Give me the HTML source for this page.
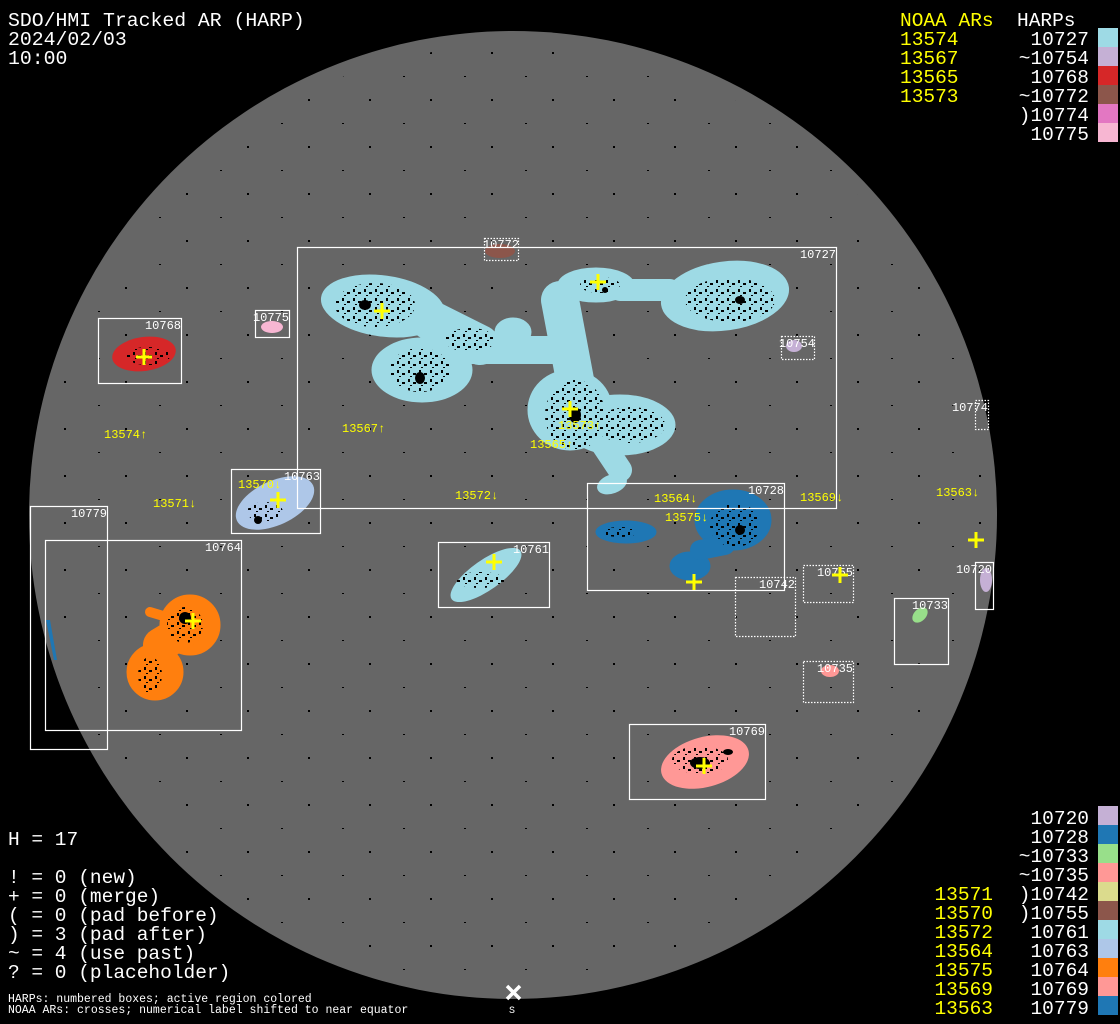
<!DOCTYPE html>
<html><head><meta charset="utf-8"><style>
html,body{margin:0;padding:0;background:#000;}
svg{display:block;}
text{font-family:"Liberation Mono","DejaVu Sans Mono",monospace;}
</style></head><body>
<svg width="1120" height="1024" viewBox="0 0 1120 1024" xmlns="http://www.w3.org/2000/svg">
<defs>
<pattern id="spk" width="11" height="9" patternUnits="userSpaceOnUse">
<rect x="1" y="1" width="2" height="3" fill="#000"/><rect x="6" y="4" width="3" height="2" fill="#000"/><rect x="3" y="7" width="2" height="1" fill="#000"/>
</pattern>
<pattern id="spk2" width="61" height="47" patternUnits="userSpaceOnUse">
<rect x="3" y="5" width="2" height="2" fill="#000"/><rect x="37" y="29" width="2" height="1" fill="#000"/>
</pattern>
</defs>
<rect width="1120" height="1024" fill="#000"/>
<circle cx="513" cy="515" r="484" fill="#666666"/>
<circle cx="513" cy="515" r="470" fill="url(#spk2)"/>

<!-- 10727 big cyan region -->
<g fill="#9edae5" stroke="#9edae5" stroke-linecap="round">
<ellipse cx="383" cy="306" rx="62" ry="30" transform="rotate(8 383 306)"/>
<ellipse cx="422" cy="370" rx="50" ry="32"/>
<line x1="430" y1="320" x2="480" y2="345" stroke-width="40"/>
<line x1="470" y1="350" x2="560" y2="350" stroke-width="28"/>
<ellipse cx="513" cy="332" rx="18" ry="14"/>
<line x1="560" y1="300" x2="575" y2="380" stroke-width="38"/>
<ellipse cx="570" cy="410" rx="42" ry="40"/>
<ellipse cx="620" cy="425" rx="55" ry="30"/>
<line x1="600" y1="440" x2="620" y2="470" stroke-width="24"/>
<ellipse cx="612" cy="484" rx="15" ry="9" transform="rotate(-20 612 484)"/>
<ellipse cx="596" cy="285" rx="38" ry="17"/>
<line x1="620" y1="290" x2="670" y2="290" stroke-width="22"/>
<ellipse cx="725" cy="296" rx="64" ry="34" transform="rotate(-8 725 296)"/>
</g>
<g fill="url(#spk)">
<ellipse cx="375" cy="305" rx="40" ry="22"/><ellipse cx="420" cy="370" rx="30" ry="22"/><ellipse cx="575" cy="415" rx="30" ry="35"/>
<ellipse cx="730" cy="300" rx="45" ry="22"/><ellipse cx="470" cy="340" rx="25" ry="12"/><ellipse cx="630" cy="425" rx="35" ry="18"/>
<ellipse cx="600" cy="285" rx="20" ry="8"/>
</g>
<g fill="#000">
<ellipse cx="365" cy="305" rx="6" ry="5"/><ellipse cx="420" cy="378" rx="5" ry="6"/><ellipse cx="575" cy="415" rx="6" ry="8"/>
<ellipse cx="740" cy="300" rx="5" ry="4"/><ellipse cx="605" cy="290" rx="3" ry="3"/>
</g>

<!-- other regions -->
<ellipse cx="500" cy="251" rx="15" ry="7" fill="#8c564b"/>
<ellipse cx="272" cy="327" rx="11" ry="6" fill="#f7b6d2"/>
<ellipse cx="144" cy="354" rx="32" ry="17" fill="#d62728" transform="rotate(-8 144 354)"/>
<ellipse cx="794" cy="346" rx="8" ry="6" fill="#c5b0d5"/>
<ellipse cx="275" cy="503" rx="42" ry="22" fill="#aec7e8" transform="rotate(-25 275 503)"/>
<g fill="#ff7f0e" stroke="#ff7f0e" stroke-linecap="round">
<circle cx="190" cy="625" r="30"/>
<ellipse cx="155" cy="672" rx="28" ry="28"/>
<line x1="160" y1="645" x2="185" y2="630" stroke-width="34"/>
<line x1="150" y1="612" x2="170" y2="618" stroke-width="10"/>
</g>
<path d="M46 620 L50 620 L57 660 L54 660 Z" fill="#1f77b4"/>
<ellipse cx="486" cy="575" rx="42" ry="15" fill="#9edae5" transform="rotate(-35 486 575)"/>
<g fill="#1f77b4" stroke="#1f77b4" stroke-linecap="round">
<ellipse cx="733" cy="520" rx="38" ry="30"/>
<ellipse cx="690" cy="566" rx="20" ry="14"/>
<line x1="700" y1="550" x2="725" y2="545" stroke-width="20"/>
<ellipse cx="626" cy="532" rx="30" ry="11"/>
</g>
<ellipse cx="705" cy="762" rx="45" ry="25" fill="#ff9896" transform="rotate(-15 705 762)"/>
<g fill="url(#spk)">
<ellipse cx="735" cy="525" rx="25" ry="22"/><ellipse cx="620" cy="532" rx="18" ry="5"/><ellipse cx="185" cy="625" rx="18" ry="18"/>
<ellipse cx="150" cy="675" rx="12" ry="18"/><ellipse cx="265" cy="512" rx="18" ry="10"/><ellipse cx="148" cy="356" rx="22" ry="9"/>
<ellipse cx="480" cy="580" rx="25" ry="8"/><ellipse cx="700" cy="760" rx="28" ry="14"/>
</g>
<g fill="#000"><ellipse cx="185" cy="618" rx="6" ry="6"/><ellipse cx="700" cy="763" rx="10" ry="6"/><ellipse cx="728" cy="752" rx="5" ry="3"/><ellipse cx="258" cy="520" rx="4" ry="4"/><ellipse cx="740" cy="530" rx="5" ry="5"/></g>
<ellipse cx="920" cy="615" rx="9" ry="6" fill="#98df8a" transform="rotate(-45 920 615)"/>
<ellipse cx="830" cy="671" rx="9" ry="6" fill="#ff9896"/>
<ellipse cx="986" cy="580" rx="6" ry="12" fill="#c5b0d5"/>

<!-- boxes -->
<g fill="none" stroke="#fff" stroke-width="1.2">
<rect x="297.5" y="247.5" width="539" height="261"/>
<rect x="98.5" y="318.5" width="83" height="65"/>
<rect x="255.5" y="310.5" width="34" height="27"/>
<rect x="231.5" y="469.5" width="89" height="64"/>
<rect x="30.5" y="506.5" width="77" height="243"/>
<rect x="45.5" y="540.5" width="196" height="190"/>
<rect x="438.5" y="542.5" width="111" height="65"/>
<rect x="587.5" y="483.5" width="197" height="107"/>
<rect x="894.5" y="598.5" width="54" height="66"/>
<rect x="975.5" y="562.5" width="18" height="47"/>
<rect x="629.5" y="724.5" width="136" height="75"/>
</g>
<g fill="none" stroke="#fff" stroke-width="1.2" stroke-dasharray="1.5 1.5">
<rect x="484.5" y="238.5" width="34" height="22"/>
<rect x="781.5" y="336.5" width="33" height="23"/>
<rect x="975.5" y="400.5" width="13" height="29"/>
<rect x="735.5" y="577.5" width="60" height="59"/>
<rect x="803.5" y="565.5" width="50" height="37"/>
<rect x="803.5" y="661.5" width="50" height="41"/>
</g>
<g fill="#fff" font-size="12" text-anchor="end">
<text x="836" y="258">10727</text>
<text x="519" y="248">10772</text>
<text x="289" y="321">10775</text>
<text x="181" y="329">10768</text>
<text x="815" y="347">10754</text>
<text x="988" y="411">10774</text>
<text x="320" y="480">10763</text>
<text x="107" y="517">10779</text>
<text x="241" y="551">10764</text>
<text x="549" y="553">10761</text>
<text x="784" y="494">10728</text>
<text x="795" y="588">10742</text>
<text x="853" y="576">10755</text>
<text x="948" y="609">10733</text>
<text x="992" y="573">10720</text>
<text x="853" y="672">10735</text>
<text x="765" y="735">10769</text>
</g>

<!-- crosses -->
<g stroke="#ffff00" stroke-width="3">
<path d="M136 357h16M144 349v16"/><path d="M374 311h16M382 303v16"/><path d="M590 282h16M598 274v16"/>
<path d="M562 409h16M570 401v16"/><path d="M270 500h16M278 492v16"/><path d="M486 562h16M494 554v16"/>
<path d="M185 621h16M193 613v16"/><path d="M686 582h16M694 574v16"/><path d="M832 575h16M840 567v16"/>
<path d="M968 540h16M976 532v16"/><path d="M696 766h16M704 758v16"/>
</g>
<g fill="#ffff00" font-size="12">
<text x="104" y="438">13574↑</text><text x="342" y="432">13567↑</text><text x="558" y="429">13573↑</text>
<text x="530" y="448">13565↑</text><text x="238" y="488">13570↓</text><text x="153" y="507">13571↓</text>
<text x="455" y="499">13572↓</text><text x="654" y="502">13564↓</text><text x="665" y="521">13575↓</text>
<text x="800" y="501">13569↓</text><text x="936" y="496">13563↓</text>
</g>

<!-- header -->
<g fill="#fff" font-size="19.8">
<text x="8" y="26">SDO/HMI Tracked AR (HARP)</text>
<text x="8" y="45">2024/02/03</text>
<text x="8" y="64">10:00</text>
</g>
<g font-size="19.5">
<text x="900" y="26" fill="#ffff00">NOAA ARs</text>
<text x="1017" y="26" fill="#fff">HARPs</text>
<g fill="#ffff00"><text x="900" y="45">13574</text><text x="900" y="64">13567</text><text x="900" y="83">13565</text><text x="900" y="102">13573</text></g>
<g fill="#fff" text-anchor="end"><text x="1089" y="45">10727</text><text x="1089" y="64">~10754</text><text x="1089" y="83">10768</text><text x="1089" y="102">~10772</text><text x="1089" y="121">)10774</text><text x="1089" y="140">10775</text></g>
</g>
<rect x="1098" y="28" width="20" height="19" fill="#9edae5"/>
<rect x="1098" y="47" width="20" height="19" fill="#c5b0d5"/>
<rect x="1098" y="66" width="20" height="19" fill="#d62728"/>
<rect x="1098" y="85" width="20" height="19" fill="#8c564b"/>
<rect x="1098" y="104" width="20" height="19" fill="#e377c2"/>
<rect x="1098" y="123" width="20" height="19" fill="#f7b6d2"/>

<!-- bottom right legend -->
<g font-size="19.5">
<g fill="#fff" text-anchor="end">
<text x="1089" y="824">10720</text><text x="1089" y="843">10728</text><text x="1089" y="862">~10733</text><text x="1089" y="881">~10735</text>
<text x="1089" y="900">)10742</text><text x="1089" y="919">)10755</text><text x="1089" y="938">10761</text><text x="1089" y="957">10763</text>
<text x="1089" y="976">10764</text><text x="1089" y="995">10769</text><text x="1089" y="1014">10779</text>
</g>
<g fill="#ffff00" text-anchor="end">
<text x="993" y="900">13571</text><text x="993" y="919">13570</text><text x="993" y="938">13572</text><text x="993" y="957">13564</text>
<text x="993" y="976">13575</text><text x="993" y="995">13569</text><text x="993" y="1014">13563</text>
</g>
</g>
<rect x="1098" y="806" width="20" height="19" fill="#c5b0d5"/>
<rect x="1098" y="825" width="20" height="19" fill="#1f77b4"/>
<rect x="1098" y="844" width="20" height="19" fill="#98df8a"/>
<rect x="1098" y="863" width="20" height="19" fill="#ff9896"/>
<rect x="1098" y="882" width="20" height="19" fill="#dbdb8d"/>
<rect x="1098" y="901" width="20" height="19" fill="#8c564b"/>
<rect x="1098" y="920" width="20" height="19" fill="#9edae5"/>
<rect x="1098" y="939" width="20" height="19" fill="#aec7e8"/>
<rect x="1098" y="958" width="20" height="19" fill="#ff7f0e"/>
<rect x="1098" y="977" width="20" height="19" fill="#ff9896"/>
<rect x="1098" y="996" width="20" height="19" fill="#1f77b4"/>

<!-- bottom left -->
<g fill="#fff" font-size="19.5">
<text x="8" y="845">H = 17</text>
<text x="8" y="883">! = 0 (new)</text>
<text x="8" y="902">+ = 0 (merge)</text>
<text x="8" y="921">( = 0 (pad before)</text>
<text x="8" y="940">) = 3 (pad after)</text>
<text x="8" y="959">~ = 4 (use past)</text>
<text x="8" y="978">? = 0 (placeholder)</text>
</g>
<g fill="#fff" font-size="11.5">
<text x="8" y="1002">HARPs: numbered boxes; active region colored</text>
<text x="8" y="1013">NOAA ARs: crosses; numerical label shifted to near equator</text>
</g>
<path d="M507 986l13 13M520 986l-13 13" stroke="#fff" stroke-width="3.5"/>
<text x="512" y="1013" fill="#fff" font-size="10" text-anchor="middle">S</text>
</svg>
</body></html>
